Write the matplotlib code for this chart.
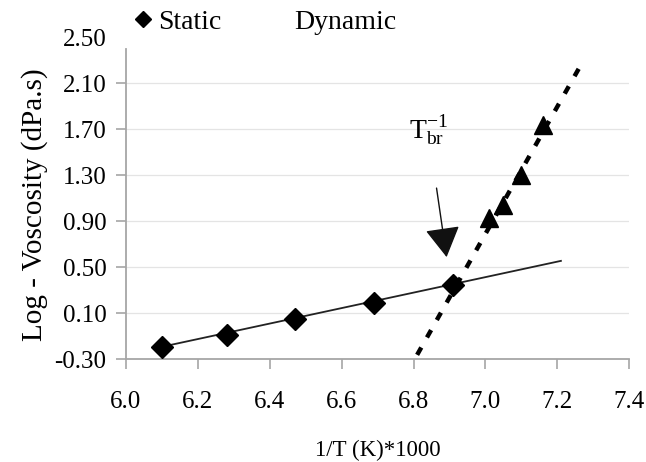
import matplotlib
matplotlib.use("Agg")
import matplotlib.pyplot as plt
from matplotlib.lines import Line2D

plt.rcParams['font.family'] = ['Liberation Serif', 'DejaVu Serif']
plt.rcParams['mathtext.fontset'] = 'custom'
plt.rcParams['mathtext.rm'] = 'Liberation Serif'
plt.rcParams['mathtext.it'] = 'Liberation Serif:italic'

# static (diamonds) and its fitted line
static_x = [6.10, 6.28, 6.47, 6.69, 6.91]
static_y = [-0.19, -0.09, 0.05, 0.19, 0.35]
static_fit_x = [6.10, 7.21]
static_fit_y = [-0.19, 0.557]

# dynamic (triangles) and its fitted line
dyn_x = [7.01, 7.05, 7.10, 7.16]
dyn_y = [0.93, 1.04, 1.30, 1.74]
dyn_fit_x = [6.81, 7.26]
dyn_fit_y = [-0.26, 2.23]

# arrow pointing at the break temperature
arrow_tip = (6.892, 0.59)
arrow_start = (6.864, 1.19)

yticks = [-0.30, 0.10, 0.50, 0.90, 1.30, 1.70, 2.10, 2.50]
xticks = [6.0, 6.2, 6.4, 6.6, 6.8, 7.0, 7.2, 7.4]

fig = plt.figure(figsize=(6.46, 4.62), dpi=100)
ax = fig.add_axes([0.195, 0.222, 0.779, 0.697])

spine_col = '#a6a6a6'
for y in yticks[1:-1]:
    ax.axhline(y, color='#e4e4e4', lw=0.9, zorder=0)

ax.plot(static_fit_x, static_fit_y, color='#222222', lw=1.3, zorder=2)
st, = ax.plot(static_x, static_y, linestyle='none', marker='D', ms=11,
              color='black', label='Static', zorder=3)
ax.plot(dyn_fit_x, dyn_fit_y, color='black', lw=3.2, dashes=(1.9, 2.6),
        dash_capstyle='butt', zorder=2)
ax.plot(dyn_x, dyn_y, linestyle='none', marker='^', ms=13,
        color='black', zorder=3)

ax.annotate('', xy=arrow_tip, xytext=arrow_start,
            arrowprops=dict(arrowstyle='-|>,head_length=0.95,head_width=0.55',
                            mutation_scale=20, color='#111111', lw=1.0,
                            shrinkA=0, shrinkB=0))
ax.text(6.841, 1.69, r'T$_{\mathrm{br}}^{\mathrm{-1}}$', fontsize=20,
        ha='center', va='center')

ax.set_xlim(6.0, 7.4)
ax.set_ylim(-0.30, 2.50)
ax.set_xticks(xticks)
ax.set_xticklabels([f'{v:.1f}' for v in xticks])
ax.set_yticks(yticks)
ax.set_yticklabels([f'{v:.2f}' for v in yticks])
ax.tick_params(axis='both', labelsize=18, color=spine_col, length=7, width=1.2)
ax.tick_params(axis='x', pad=16)
ax.tick_params(axis='y', pad=7)
ax.yaxis.get_major_ticks()[-1].tick1line.set_visible(False)

for s in ['top', 'right']:
    ax.spines[s].set_visible(False)
for s in ['left', 'bottom']:
    ax.spines[s].set_color(spine_col)
    ax.spines[s].set_linewidth(1.3)
ax.spines['left'].set_bounds(-0.30, 2.40)

ax.set_xlabel('1/T (K)*1000', fontsize=16.5, labelpad=19)
ax.set_ylabel('Log - Voscosity (dPa.s)', fontsize=21)
ax.yaxis.set_label_coords(-0.155, 0.48)

dyn_handle = Line2D([], [], linestyle='none', marker=None, label='Dynamic')
fig.legend(handles=[st, dyn_handle], loc='upper left',
           bbox_to_anchor=(0.172, 1.033), ncol=2, frameon=False, fontsize=20,
           handlelength=0.5, handletextpad=0.3, columnspacing=1.8,
           markerscale=0.75)

fig.savefig('out.png', dpi=100)
